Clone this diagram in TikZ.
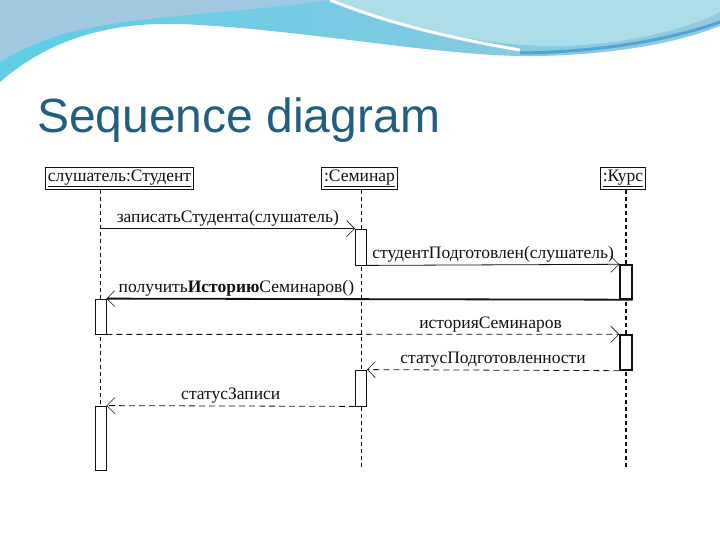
\documentclass[tikz,border=0pt]{standalone}
\usepackage{fontspec}
\setmainfont{Liberation Serif}
\newfontfamily\titlefont{Liberation Sans}
\usepackage{tikz}
\usepackage{xcolor}
\usetikzlibrary{arrows.meta,positioning,calc}
\definecolor{ink}{HTML}{111111}
\definecolor{headline}{HTML}{1F5F7F}
\definecolor{wavecyan}{HTML}{5ECDE6}
\definecolor{waveblue}{HTML}{86BBD8}
\definecolor{wavelight}{HTML}{ADDDE9}
\definecolor{wavedeep}{HTML}{4FA6D6}
\tikzset{
  title/.style={font=\titlefont\fontsize{48}{52}\selectfont,text=headline,inner sep=0pt},
  obj/.style={draw=ink,fill=white,line width=0.9pt,inner sep=2.5pt,font=\fontsize{17.5}{19}\selectfont,text=ink},
  lifeline/.style={draw=ink,line width=0.7pt,dash pattern=on 4pt off 3pt},
  act/.style={draw=ink,fill=white,line width=0.8pt,minimum width=11pt,inner sep=0pt},
  call/.style={-{Straight Barb[length=8pt,width=16pt,line width=0.6pt]},line width=0.8pt,draw=ink},
  reply/.style={call,dash pattern=on 6pt off 4pt},
  lbl/.style={font=\fontsize{17.5}{19}\selectfont,text=ink,inner sep=2pt}
}
\begin{document}
\begin{tikzpicture}[x=1pt,y=-1pt]
  \useasboundingbox (0,0) rectangle (720,540);
  \shade[left color=wavecyan,right color=waveblue!60!wavelight]
    (0,82) .. controls (60,30) and (130,20) .. (200,25) .. controls (320,32) and (450,58) .. (540,56)
    .. controls (620,54) and (680,42) .. (720,26) -- (720,0) -- (0,0) -- cycle;
  \fill[waveblue!80!white] (0,0) -- (330,0) .. controls (250,12) and (150,15) .. (90,28) .. controls (50,35) and (20,50) .. (0,62) -- cycle;
  \fill[wavelight] (330,0) .. controls (380,22) and (460,42) .. (540,46) .. controls (620,48) and (690,28) .. (720,12) -- (720,0) -- cycle;
  \draw[white,line width=3pt] (330,0) .. controls (390,24) and (450,38) .. (520,50);
  \draw[wavedeep,line width=3pt] (520,53) .. controls (600,52) and (670,40) .. (720,22);

  \node[title,anchor=base west] (ttl) at (37,133) {Sequence diagram};

  \node[obj] (stud) at (119.5,178.5) {\underline{слушатель:Студент}};
  \node[obj] (sem) at (359.5,178.5) {\underline{:Семинар}};
  \node[obj] (kurs) at (623,178.5) {\underline{:Курс}};
  \coordinate (l1) at (100.5,470);
  \coordinate (l2) at (361,470);
  \coordinate (l3) at (626,470);
  \draw[lifeline] (stud.south -| l1) -- (l1);
  \draw[lifeline] (sem.south -| l2) -- (l2);
  \draw[lifeline,line width=1.1pt] (kurs.south -| l3) -- (l3);

  \node[act,minimum height=36pt] (sem1) at (361,247) {};
  \node[act,minimum height=34pt,minimum width=12pt,line width=1.4pt] (kurs1) at (626,282) {};
  \node[act,minimum height=35pt] (stud1) at (100.5,316.5) {};
  \node[act,minimum height=35pt,minimum width=12pt,line width=1.4pt] (kurs2) at (626,352.5) {};
  \node[act,minimum height=36pt] (sem2) at (361,388) {};
  \node[act,minimum height=64pt] (stud2) at (100.5,438) {};

  \draw[call] (sem1.north west -| l1) -- (sem1.north west) node[lbl,midway,above] (m1) {записатьСтудента(слушатель)};
  \draw[call] (sem1.south east) -- (kurs1.north west) node[lbl,midway,above] (m2) {студентПодготовлен(слушатель)};
  \draw[call,line width=1.8pt] (kurs1.south east) -- (stud1.north east) node[lbl,pos=0.753,above] (m3) {получить\textbf{Историю}Семинаров()};
  \draw[reply] (stud1.south east) -- (kurs2.north west) node[lbl,pos=0.749,above] (m4) {историяСеминаров};
  \draw[reply] (kurs2.south west) -- (sem2.north east) node[lbl,midway,above] (m5) {статусПодготовленности};
  \draw[reply] (sem2.south west) -- (stud2.north east) node[lbl,midway,above] (m6) {статусЗаписи};
\end{tikzpicture}
\end{document}
